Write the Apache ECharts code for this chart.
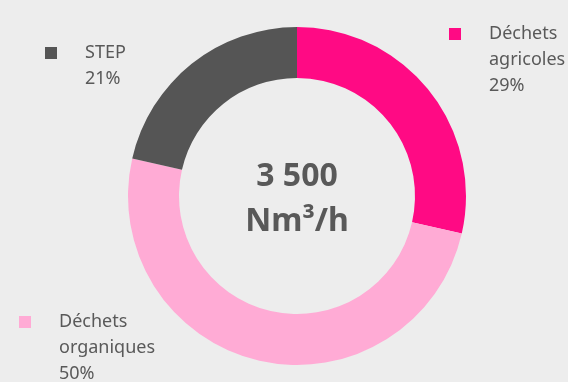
<!DOCTYPE html>
<html>
<head>
<meta charset="utf-8">
<script src="https://cdn.jsdelivr.net/npm/echarts@6/dist/echarts.min.js"></script>
<style>
  html, body { margin: 0; padding: 0; background: #ededed; }
  #chart { width: 568px; height: 382px; }
</style>
</head>
<body>
<div id="chart"></div>
<script>
// capacity split (Nm3/h)
const names = ['Déchets agricoles', 'Déchets organiques', 'STEP'];
const values = [1000, 1750, 750];
const colors = ['#ff0a84', '#ffabd5', '#555555'];
const centerLines = ['3 500', 'Nm³/h'];

const textColor = '#595959';
const total = values.reduce((a, b) => a + b, 0);

function pct(name) {
  const i = names.indexOf(name);
  return Math.round(values[i] / total * 100) + '%';
}

// one legend per label, pinned where the original places it.
// legend centres the text block on the icon, so blank lines are
// prepended to bring the first text line level with the square
function legendFor(name, left, top) {
  return {
    data: [name],
    left: left,
    top: top,
    padding: 0,
    icon: 'rect',
    itemWidth: 12,
    itemHeight: 12,
    selectedMode: false,
    formatter: n => {
      const lines = n.split(' ').concat(pct(n));
      return ' \n'.repeat(lines.length - 1) + lines.join('\n');
    },
    textStyle: {
      color: textColor,
      fontFamily: 'Noto Sans',
      fontSize: 18,
      lineHeight: 26,
      padding: [0, 0, 0, 23]
    }
  };
}

const chart = echarts.init(document.getElementById('chart'));
chart.setOption({
  backgroundColor: '#ededed',
  color: colors,
  animation: false,
  title: {
    text: centerLines.join('\n'),
    left: 297,
    top: 154,
    padding: 0,
    textAlign: 'center',
    textStyle: {
      color: textColor,
      fontFamily: 'Noto Sans',
      fontWeight: 'bold',
      fontSize: 32,
      lineHeight: 45
    }
  },
  legend: [
    legendFor('STEP', 45, 14),
    legendFor('Déchets agricoles', 449, -31),
    legendFor('Déchets organiques', 19, 257)
  ],
  series: [{
    type: 'pie',
    center: [297, 196],
    radius: [118, 169],
    startAngle: 90,
    clockwise: true,
    silent: true,
    label: { show: false },
    labelLine: { show: false },
    data: names.map((n, i) => ({ name: n, value: values[i] }))
  }]
});
</script>
</body>
</html>
